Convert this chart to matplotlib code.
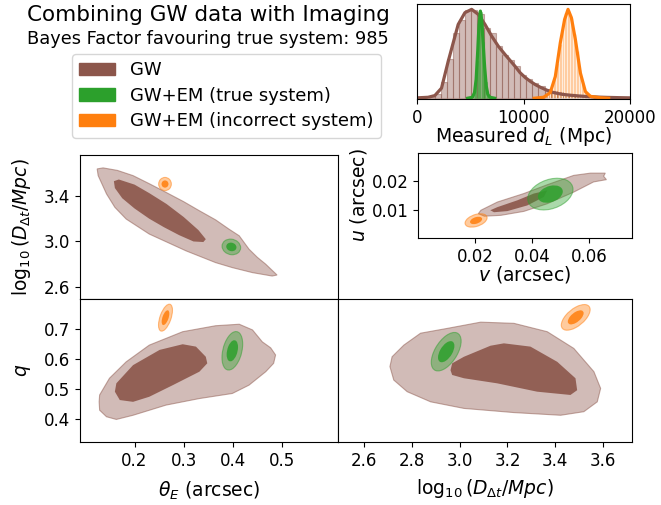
import numpy as np
import matplotlib
matplotlib.use("Agg")
import matplotlib.pyplot as plt
from matplotlib.colors import to_rgba
from matplotlib.patches import Ellipse, Patch
from matplotlib.transforms import Affine2D

plt.rcParams["font.size"] = 12
plt.rcParams["axes.labelsize"] = 13.5

BROWN, GREEN, ORANGE = "#8c564b", "#2ca02c", "#ff7f0e"

# ---- measured luminosity distance (normalised heights) ----
GW_BIN_START, GW_BIN_WIDTH = 1090, 573
GW_HIST = [0.015, 0.05, 0.17, 0.42, 0.69, 0.83, 0.94, 0.94, 0.89, 0.75,
           0.69, 0.55, 0.46, 0.41, 0.34, 0.25, 0.20, 0.16, 0.13, 0.10,
           0.08, 0.065, 0.05, 0.04, 0.035, 0.028, 0.022, 0.018, 0.013, 0.01]
GW_KDE_D = [0, 1037, 1670, 2300, 2925, 3395, 3866, 4498, 5130, 5750, 6384,
            7016, 7638, 8270, 9213, 9685, 10156, 10628, 11100, 11570, 12200,
            12825, 13600, 14400, 15200, 15974, 17000, 17860, 19000, 20000]
GW_KDE_H = [0.004, 0.01, 0.028, 0.107, 0.39, 0.587, 0.783, 0.908, 0.943,
            0.89, 0.783, 0.658, 0.551, 0.463, 0.338, 0.27, 0.22, 0.18, 0.145,
            0.117, 0.085, 0.06, 0.042, 0.032, 0.024, 0.018, 0.012, 0.009,
            0.006, 0.004]

TRUE_BIN_START, TRUE_BIN_WIDTH = 5340, 120
TRUE_HIST = [0.05, 0.17, 0.40, 0.68, 0.88, 0.92, 0.80, 0.60, 0.36, 0.17,
             0.07, 0.02]
TRUE_KDE_D = [4750, 5200, 5400, 5550, 5700, 5820, 5950, 6080, 6200, 6350,
              6500, 6650, 6850, 7300]
TRUE_KDE_H = [0.0, 0.01, 0.06, 0.2, 0.5, 0.78, 0.925, 0.82, 0.6, 0.33,
              0.13, 0.04, 0.01, 0.0]

WRONG_BIN_START, WRONG_BIN_WIDTH = 12000, 264
WRONG_HIST = [0.03, 0.05, 0.10, 0.20, 0.37, 0.58, 0.78, 0.90, 0.93, 0.85,
              0.68, 0.50, 0.30, 0.15, 0.07, 0.03, 0.01]
WRONG_KDE_D = [11000, 11882, 12513, 12985, 13457, 13862, 14180, 14494,
               14871, 15343, 15814, 16286, 17230, 18000]
WRONG_KDE_H = [0.0, 0.01, 0.06, 0.23, 0.59, 0.837, 0.943, 0.855, 0.623,
               0.267, 0.07, 0.02, 0.005, 0.0]

# ---- GW-only credible regions (outer = 90%, inner = 50%) ----
GW_THETA_LOGD_OUTER = [
    (0.124, 3.638), (0.136, 3.647), (0.165, 3.625), (0.197, 3.579),
    (0.230, 3.508), (0.264, 3.432), (0.300, 3.350), (0.332, 3.270),
    (0.365, 3.190), (0.392, 3.109), (0.413, 3.050), (0.433, 2.932),
    (0.450, 2.860), (0.467, 2.800), (0.490, 2.705), (0.480, 2.696),
    (0.440, 2.726), (0.399, 2.770), (0.365, 2.814), (0.305, 2.917),
    (0.230, 3.065), (0.183, 3.197), (0.160, 3.300), (0.143, 3.418),
    (0.126, 3.579)]
GW_THETA_LOGD_INNER = [
    (0.158, 3.530), (0.168, 3.545), (0.200, 3.500), (0.230, 3.425),
    (0.265, 3.330), (0.300, 3.215), (0.330, 3.100), (0.345, 3.020),
    (0.340, 2.995), (0.320, 3.000), (0.291, 3.055), (0.260, 3.125),
    (0.230, 3.200), (0.200, 3.290), (0.175, 3.380), (0.160, 3.470)]

GW_THETA_Q_OUTER = [
    (0.128, 0.456), (0.129, 0.479), (0.149, 0.535), (0.183, 0.590),
    (0.230, 0.646), (0.298, 0.691), (0.365, 0.711), (0.413, 0.716),
    (0.440, 0.697), (0.460, 0.657), (0.477, 0.637), (0.487, 0.613),
    (0.483, 0.585), (0.467, 0.557), (0.433, 0.512), (0.399, 0.484),
    (0.332, 0.467), (0.264, 0.445), (0.197, 0.411), (0.163, 0.397),
    (0.143, 0.406), (0.129, 0.428)]
GW_THETA_Q_INNER = [
    (0.160, 0.490), (0.163, 0.518), (0.197, 0.579), (0.251, 0.630),
    (0.298, 0.649), (0.325, 0.641), (0.345, 0.607), (0.348, 0.585),
    (0.332, 0.557), (0.278, 0.512), (0.230, 0.473), (0.197, 0.456),
    (0.170, 0.462)]

GW_LOGD_Q_OUTER = [
    (2.709, 0.574), (2.718, 0.607), (2.767, 0.646), (2.837, 0.686),
    (2.948, 0.702), (3.088, 0.723), (3.227, 0.719), (3.366, 0.691),
    (3.477, 0.635), (3.561, 0.557), (3.589, 0.501), (3.575, 0.456),
    (3.519, 0.423), (3.422, 0.411), (3.227, 0.420), (3.018, 0.434),
    (2.879, 0.456), (2.781, 0.490), (2.725, 0.529)]
GW_LOGD_Q_INNER = [
    (2.962, 0.562), (2.969, 0.585), (3.018, 0.607), (3.129, 0.644),
    (3.185, 0.652), (3.296, 0.641), (3.408, 0.590), (3.484, 0.535),
    (3.491, 0.495), (3.463, 0.479), (3.324, 0.490), (3.157, 0.518),
    (3.018, 0.535), (2.969, 0.546)]

GW_V_U_OUTER = [
    (0.0212, 0.0086), (0.0221, 0.0098), (0.0279, 0.0127), (0.0372, 0.0157),
    (0.0454, 0.0188), (0.0547, 0.0221), (0.0606, 0.0229), (0.0658, 0.0229),
    (0.0652, 0.0218), (0.0662, 0.0206), (0.0617, 0.0198), (0.0547, 0.0162),
    (0.0454, 0.0121), (0.0372, 0.0094), (0.0291, 0.0080), (0.0233, 0.0077)]
GW_V_U_INNER = [
    (0.0254, 0.0098), (0.0279, 0.0109), (0.0349, 0.0133), (0.0407, 0.0157),
    (0.0454, 0.0168), (0.0442, 0.0145), (0.0384, 0.0115), (0.0314, 0.0095),
    (0.0267, 0.0091)]

# ---- GW+EM posteriors: (mean_x, mean_y, sd_x, sd_y, corr) ----
TRUE_THETA_LOGD = (0.397, 2.952, 0.0088, 0.032, -0.1)
WRONG_THETA_LOGD = (0.262, 3.505, 0.0060, 0.027, 0.0)
TRUE_THETA_Q = (0.399, 0.627, 0.0098, 0.030, 0.35)
WRONG_THETA_Q = (0.263, 0.738, 0.0066, 0.021, 0.55)
TRUE_LOGD_Q = (2.944, 0.624, 0.029, 0.030, 0.55)
WRONG_LOGD_Q = (3.485, 0.739, 0.028, 0.020, 0.6)
TRUE_V_U = (0.0465, 0.0155, 0.0037, 0.0026, 0.3)
WRONG_V_U = (0.0204, 0.0062, 0.0018, 0.0011, 0.4)
K_INNER, K_OUTER = 1.18, 2.15

THETA_LIM = (0.089, 0.613)
LOGD_LIM_Y = (2.494, 3.756)
LOGD_LIM_X = (2.49, 3.72)
Q_LIM = (0.3215, 0.8007)
V_LIM = (0.0, 0.0752)
U_LIM = (0.0, 0.030)

LABELS = ["GW", "GW+EM (true system)", "GW+EM (incorrect system)"]


def region(ax, pts, color, inner=False):
    x, y = zip(*pts)
    if inner:
        ax.fill(x, y, fc=to_rgba(color, 0.9), ec="none", zorder=2)
    else:
        ax.fill(x, y, fc=to_rgba(color, 0.4), ec=to_rgba(color, 0.5),
                lw=0.8, zorder=1)


def blob(ax, post, color):
    mx, my, sx, sy, rho = post
    tr = Affine2D(np.array([[sx, 0.0, mx],
                            [rho * sy, sy * np.sqrt(1 - rho ** 2), my],
                            [0.0, 0.0, 1.0]])) + ax.transData
    ax.add_patch(Ellipse((0, 0), 2 * K_OUTER, 2 * K_OUTER, transform=tr,
                         fc=to_rgba(color, 0.4), ec=to_rgba(color, 0.5),
                         lw=0.8, zorder=3))
    ax.add_patch(Ellipse((0, 0), 2 * K_INNER, 2 * K_INNER, transform=tr,
                         fc=to_rgba(color, 0.85), ec="none", zorder=4))


def hist(ax, start, width, heights, color, edge):
    lefts = start + width * np.arange(len(heights))
    ax.bar(lefts, heights, width=width, align="edge",
           color=to_rgba(color, 0.4), edgecolor=edge, lw=0.8)


fig = plt.figure(figsize=(6.61, 5.05), dpi=100)

ax_h = fig.add_axes([0.6309, 0.8040, 0.3222, 0.1881])
ax_uv = fig.add_axes([0.6324, 0.5287, 0.3238, 0.1683])
ax_td = fig.add_axes([0.1210, 0.4079, 0.3896, 0.2842])
ax_tq = fig.add_axes([0.1210, 0.1248, 0.3896, 0.2832])
ax_dq = fig.add_axes([0.5106, 0.1248, 0.4455, 0.2832])

# luminosity distance
hist(ax_h, GW_BIN_START, GW_BIN_WIDTH, GW_HIST, BROWN, to_rgba(BROWN, 0.45))
hist(ax_h, WRONG_BIN_START, WRONG_BIN_WIDTH, WRONG_HIST, ORANGE,
     to_rgba("white", 0.5))
hist(ax_h, TRUE_BIN_START, TRUE_BIN_WIDTH, TRUE_HIST, GREEN,
     to_rgba(GREEN, 0.3))
ax_h.plot(GW_KDE_D, GW_KDE_H, color=BROWN, lw=2.3)
ax_h.plot(TRUE_KDE_D, TRUE_KDE_H, color=GREEN, lw=2.3)
ax_h.plot(WRONG_KDE_D, WRONG_KDE_H, color=ORANGE, lw=2.3)
ax_h.set_xlim(0, 20000)
ax_h.set_ylim(-0.008, 1.0)
ax_h.set_xticks([0, 10000, 20000])
ax_h.set_yticks([])
ax_h.set_xlabel("Measured $d_L$ (Mpc)", labelpad=-1)

# source position
region(ax_uv, GW_V_U_OUTER, BROWN)
region(ax_uv, GW_V_U_INNER, BROWN, inner=True)
blob(ax_uv, TRUE_V_U, GREEN)
blob(ax_uv, WRONG_V_U, ORANGE)
ax_uv.set_xlim(*V_LIM)
ax_uv.set_ylim(*U_LIM)
ax_uv.set_xticks([0.02, 0.04, 0.06])
ax_uv.set_yticks([0.01, 0.02])
ax_uv.set_xlabel("$v$ (arcsec)", labelpad=-1)
ax_uv.set_ylabel("$u$ (arcsec)", labelpad=2)

# corner: theta_E / log D / q
region(ax_td, GW_THETA_LOGD_OUTER, BROWN)
region(ax_td, GW_THETA_LOGD_INNER, BROWN, inner=True)
blob(ax_td, TRUE_THETA_LOGD, GREEN)
blob(ax_td, WRONG_THETA_LOGD, ORANGE)

region(ax_tq, GW_THETA_Q_OUTER, BROWN)
region(ax_tq, GW_THETA_Q_INNER, BROWN, inner=True)
blob(ax_tq, TRUE_THETA_Q, GREEN)
blob(ax_tq, WRONG_THETA_Q, ORANGE)

region(ax_dq, GW_LOGD_Q_OUTER, BROWN)
region(ax_dq, GW_LOGD_Q_INNER, BROWN, inner=True)
blob(ax_dq, TRUE_LOGD_Q, GREEN)
blob(ax_dq, WRONG_LOGD_Q, ORANGE)

logd = r"$\log_{10}(D_{\Delta t}/Mpc)$"
for ax in (ax_td, ax_tq):
    ax.set_xlim(*THETA_LIM)
    ax.set_xticks([0.2, 0.3, 0.4, 0.5])
ax_td.set_ylim(*LOGD_LIM_Y)
ax_td.set_yticks([2.6, 3.0, 3.4])
ax_td.tick_params(labelbottom=False)
ax_td.set_ylabel(logd, labelpad=8)

ax_tq.set_ylim(*Q_LIM)
ax_tq.set_yticks([0.4, 0.5, 0.6, 0.7])
ax_tq.set_xlabel(r"$\theta_E$ (arcsec)", labelpad=7)
ax_tq.set_ylabel("$q$", labelpad=8)

ax_dq.set_xlim(*LOGD_LIM_X)
ax_dq.set_ylim(*Q_LIM)
ax_dq.set_xticks([2.6, 2.8, 3.0, 3.2, 3.4, 3.6])
ax_dq.set_yticks([])
ax_dq.set_xlabel(logd, labelpad=5)

fig.text(208 / 661, 1 - 15 / 505, "Combining GW data with Imaging",
         ha="center", va="center", fontsize=15.5)
fig.text(208 / 661, 1 - 39 / 505, "Bayes Factor favouring true system: 985",
         ha="center", va="center", fontsize=12.8)
handles = [Patch(color=c) for c in (BROWN, GREEN, ORANGE)]
fig.legend(handles, LABELS, loc="upper left", borderaxespad=0,
           bbox_to_anchor=(72 / 661, 1 - 54 / 505), fontsize=13.0,
           labelspacing=0.42)

fig.savefig("out.png")
